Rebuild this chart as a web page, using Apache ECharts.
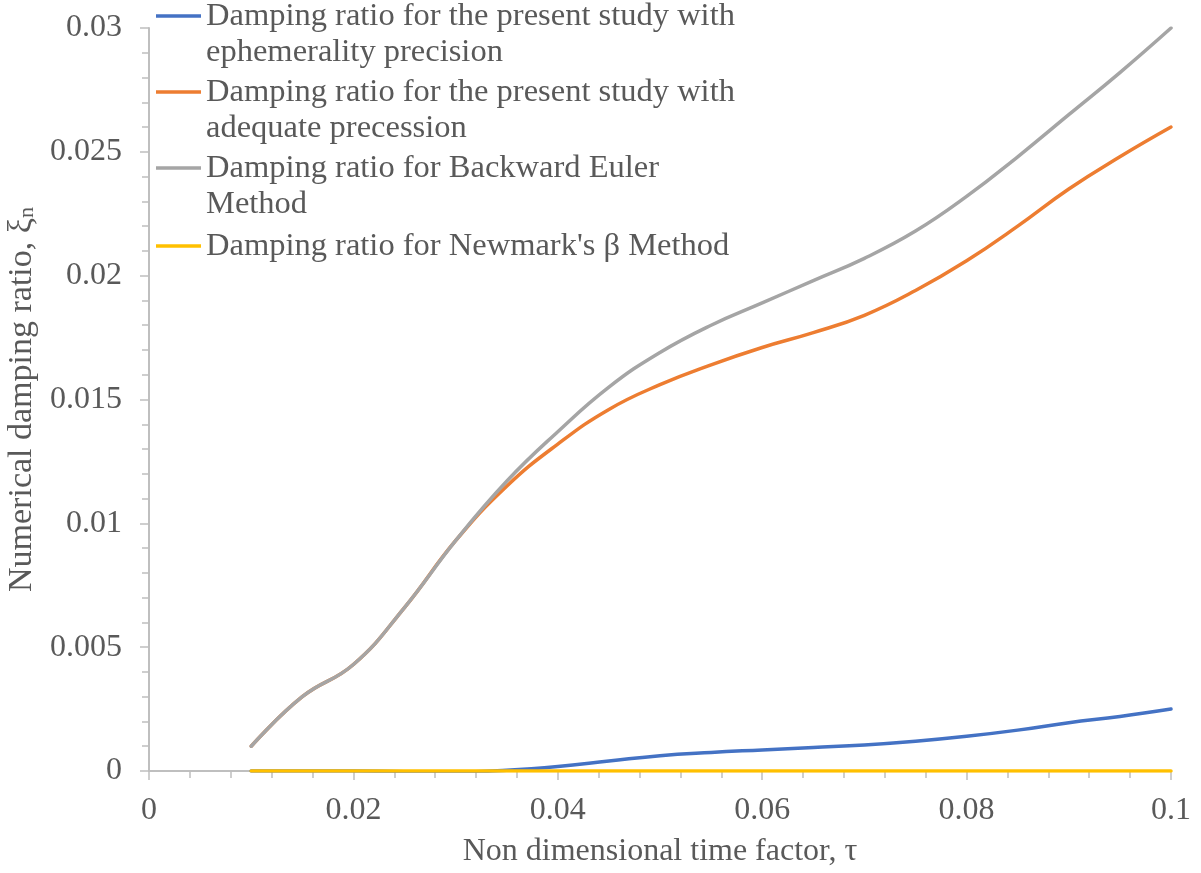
<!DOCTYPE html>
<html>
<head>
<meta charset="utf-8">
<script src="https://cdn.jsdelivr.net/npm/echarts@6/dist/echarts.min.js"></script>
<style>
  html, body { margin: 0; padding: 0; background: #fff; }
  #chart { width: 1201px; height: 873px; }
</style>
</head>
<body>
<div id="chart"></div>
<script>
// Non-dimensional time factor (tau) sample points
const tau = [0.01, 0.015, 0.02, 0.025, 0.03, 0.035, 0.04, 0.045, 0.05, 0.055,
             0.06, 0.065, 0.07, 0.075, 0.08, 0.085, 0.09, 0.095, 0.1];

// Numerical damping ratio for each method
const ephemeral = [0, 0, 0, -0.00003, -0.00004, 0.00003, 0.00018, 0.0004, 0.00062, 0.00075,
                   0.00085, 0.00095, 0.00105, 0.0012, 0.0014, 0.00165, 0.00195, 0.0022, 0.0025];
const adequate  = [0.001, 0.003, 0.0043, 0.0066, 0.0093, 0.0115, 0.0132, 0.0146, 0.0156, 0.0164,
                   0.0171, 0.0177, 0.0184, 0.0194, 0.0206, 0.022, 0.0235, 0.0248, 0.026];
const backwardEuler = [0.001, 0.003, 0.0043, 0.0066, 0.0093, 0.0117, 0.0137, 0.0155, 0.0169, 0.018,
                   0.0189, 0.0198, 0.0207, 0.0218, 0.0232, 0.0248, 0.0265, 0.0282, 0.03];
const newmark   = [0, 0, 0, 0, 0, 0, 0, 0, 0, 0,
                   0, 0, 0, 0, 0, 0, 0, 0, 0];

// Series names and their wrapped legend text
const seriesNames = [
  'Damping ratio for the present study with ephemerality precision',
  'Damping ratio for the present study with adequate precession',
  'Damping ratio for Backward Euler Method',
  "Damping ratio for Newmark's \u03b2 Method"
];
const legendText = [
  'Damping ratio for the present study with\nephemerality precision',
  'Damping ratio for the present study with\nadequate precession',
  'Damping ratio for Backward Euler\nMethod',
  "Damping ratio for Newmark's \u03b2 Method"
];
const colors = ['#4472C4', '#ED7D31', '#A5A5A5', '#FFC000'];
const seriesData = [ephemeral, adequate, backwardEuler, newmark];

const FONT = '"Liberation Serif", "Times New Roman", serif';
const TEXT = '#595959';
const AXIS = '#BFBFBF';
const LINE_H = 36;

const pairs = arr => tau.map((t, i) => [t, arr[i]]);

// Swatch drawn in the upper half of a two-line-tall box, so it lines up
// with the first line of a wrapped legend entry.
const swatchTwoLine = 'path://M0,0 L0,0 M0,16.25 L45,16.25 L45,19.75 L0,19.75 Z M0,72 L0,72';

// one legend block per series
const legendSwatchY = [16, 92, 168, 246];
const legends = seriesNames.map((name, i) => {
  const twoLines = legendText[i].indexOf('\n') >= 0;
  return {
    data: [name],
    left: 156,
    top: legendSwatchY[i] - LINE_H / 2,
    padding: 0,
    itemWidth: 45,
    itemHeight: twoLines ? 2 * LINE_H : 3.5,
    icon: twoLines ? swatchTwoLine : 'rect',
    itemStyle: { borderWidth: 0 },
    formatter: () => legendText[i],
    selectedMode: false,
    textStyle: { fontFamily: FONT, fontSize: 32.5, color: TEXT, lineHeight: LINE_H },
    z: 10
  };
});

const chart = echarts.init(document.getElementById('chart'), null, { renderer: 'canvas' });
chart.setOption({
  animation: false,
  backgroundColor: '#ffffff',
  grid: {
    left: 149, right: 30, top: 28, bottom: 102,
    containLabel: false, outerBoundsMode: 'none'
  },
  legend: legends,
  xAxis: {
    type: 'value',
    min: 0, max: 0.1, interval: 0.02,
    name: 'Non dimensional time factor, \u03c4',
    nameLocation: 'middle',
    nameGap: 65,
    nameTextStyle: { fontFamily: FONT, fontSize: 32, color: TEXT },
    axisLine: { show: true, lineStyle: { color: AXIS, width: 2 } },
    axisTick: { show: true, inside: false, length: 9, lineStyle: { color: AXIS, width: 1.5 } },
    minorTick: { show: true, splitNumber: 5, length: 7, lineStyle: { color: AXIS, width: 1.5 } },
    splitLine: { show: false },
    axisLabel: {
      fontFamily: FONT, fontSize: 32, color: TEXT, margin: 23,
      verticalAlign: 'top', lineHeight: 34,
      formatter: v => String(+v.toFixed(3))
    }
  },
  yAxis: {
    type: 'value',
    min: 0, max: 0.03, interval: 0.005,
    name: '{m|Numerical damping ratio, \u03be}{s|n}',
    nameLocation: 'middle',
    nameGap: 106,
    nameRotate: 90,
    nameTextStyle: {
      fontFamily: FONT, fontSize: 34, color: TEXT,
      rich: {
        m: { fontFamily: FONT, fontSize: 34, color: TEXT },
        s: { fontFamily: FONT, fontSize: 22, color: TEXT, padding: [10, 0, 0, 0] }
      }
    },
    axisLine: { show: true, lineStyle: { color: AXIS, width: 2 } },
    axisTick: { show: true, inside: false, length: 9, lineStyle: { color: AXIS, width: 1.5 } },
    minorTick: { show: true, splitNumber: 5, length: 7, lineStyle: { color: AXIS, width: 1.5 } },
    splitLine: { show: false },
    axisLabel: {
      fontFamily: FONT, fontSize: 32, color: TEXT, margin: 27, align: 'right',
      formatter: v => String(+v.toFixed(3))
    }
  },
  series: seriesNames.map((name, i) => ({
    name: name,
    type: 'line',
    data: pairs(seriesData[i]),
    smooth: 0.45,
    showSymbol: false,
    symbol: 'none',
    color: colors[i],
    lineStyle: { color: colors[i], width: 3.5, cap: 'round' },
    z: 2 + i
  }))
});
</script>
</body>
</html>
